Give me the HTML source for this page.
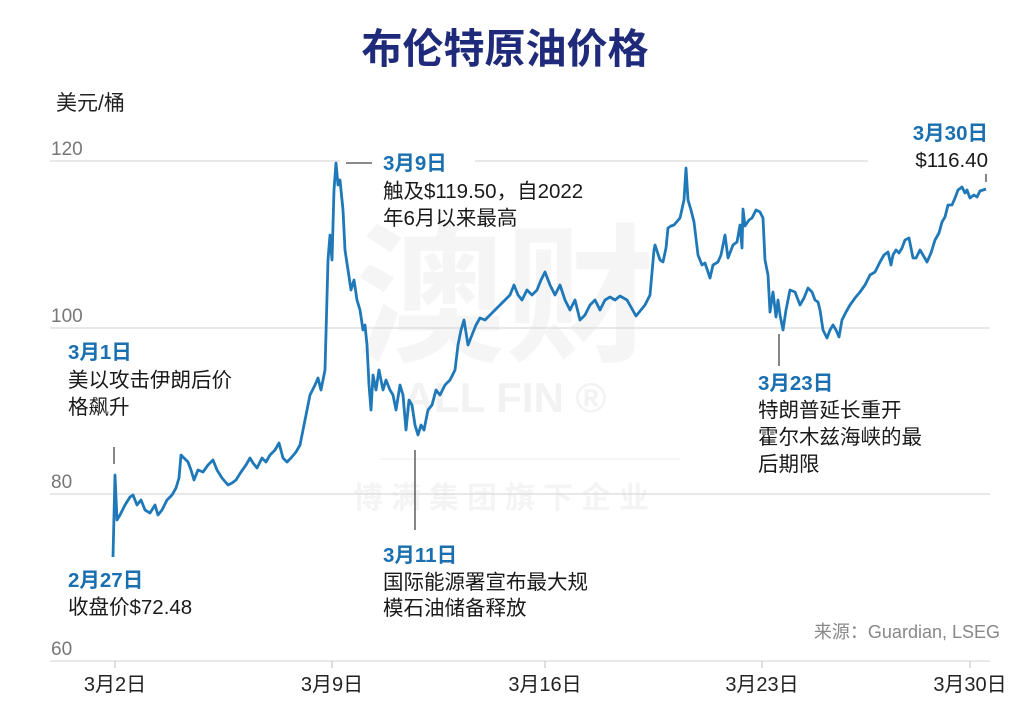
<!DOCTYPE html>
<html><head><meta charset="utf-8"><style>
body{margin:0;background:#fff;}
svg{display:block;font-family:"Liberation Sans","Noto Sans CJK SC",sans-serif;}
.b{fill:#1a6fb0;font-weight:bold;font-size:20.5px}
.t{fill:#1a1a1a;font-size:20.5px}
.ax{fill:#777;font-size:19px}
.xl{fill:#222;font-size:20px}
</style></head><body>
<svg width="1024" height="727" viewBox="0 0 1024 727">
<rect width="1024" height="727" fill="#fff"/>
<text x="505" y="63" text-anchor="middle" font-size="41" font-weight="bold" fill="#1f2a7a">布伦特原油价格</text>
<text x="56" y="110" font-size="21" fill="#222">美元/桶</text>
<!-- watermark -->
<text x="505" y="350" text-anchor="middle" font-size="150" font-weight="bold" fill="#f5f5f5">澳财</text>
<text x="505" y="412" text-anchor="middle" font-size="42" font-weight="bold" fill="#f2f2f2">ALL FIN ®</text>
<text x="505" y="508" text-anchor="middle" font-size="30" font-weight="bold" fill="#f4f4f4" letter-spacing="8">博满集团旗下企业</text>
<g stroke="#d9d9d9" stroke-width="1.3">
<line x1="50" y1="161" x2="340" y2="161"/><line x1="475" y1="161" x2="868" y2="161"/>
<line x1="50" y1="328" x2="990" y2="328"/>
<line x1="50" y1="494" x2="990" y2="494"/>
<line x1="380" y1="459" x2="680" y2="459" stroke="#f0f0f0"/>
<line x1="50" y1="661" x2="990" y2="661"/>
</g>
<g class="ax"><text x="51" y="155">120</text><text x="51" y="322">100</text><text x="51" y="488">80</text><text x="51" y="655">60</text></g>
<g stroke="#ccc" stroke-width="1.3"><line x1="115" y1="661" x2="115" y2="668"/><line x1="332" y1="661" x2="332" y2="668"/><line x1="545" y1="661" x2="545" y2="668"/><line x1="762" y1="661" x2="762" y2="668"/><line x1="970" y1="661" x2="970" y2="668"/></g>
<g class="xl" text-anchor="middle"><text x="115" y="691">3月2日</text><text x="332" y="691">3月9日</text><text x="545" y="691">3月16日</text><text x="762" y="691">3月23日</text><text x="970" y="691">3月30日</text></g>
<g stroke="#444" stroke-width="1.3">
<line x1="114" y1="447" x2="114" y2="464"/>
<line x1="346" y1="163" x2="372" y2="163"/>
<line x1="415" y1="450" x2="415" y2="530"/>
<line x1="779" y1="334" x2="779" y2="366"/>
<line x1="986" y1="174" x2="986" y2="182"/>
</g>
<polyline fill="none" stroke="#1f78b8" stroke-width="2.8" stroke-linejoin="round" points="113,557 115,475 117,520 120,515 125,505 130,497 133,495 137,505 141,500 145,510 150,513 155,505 158,515 162,510 167,500 172,495 176,488 179,478 181,455 184,458 188,462 191,470 194,480 198,470 203,472 208,465 213,460 217,470 222,478 228,485 232,483 236,480 241,472 246,465 250,458 253,463 257,468 262,458 266,462 270,455 275,450 279,443 283,458 287,462 291,458 296,452 300,445 303,430 306,415 310,395 315,385 318,378 321,390 325,370 328,260 330,235 332,260 334,190 336,163 338,185 340,180 343,210 345,250 348,270 351,290 354,280 357,300 360,310 363,330 365,325 367,345 369,385 371,410 373,375 376,390 379,370 383,390 386,380 390,390 393,395 396,410 400,385 403,395 406,430 409,400 412,405 415,425 418,435 421,425 424,430 428,410 432,405 436,390 440,395 445,385 450,380 455,370 458,345 461,330 464,320 468,345 472,335 476,325 480,318 485,320 490,315 495,310 500,305 505,300 510,295 514,285 518,295 522,300 527,290 532,295 537,290 541,280 545,272 550,285 555,295 560,285 565,300 570,310 575,300 580,320 585,315 590,305 595,300 600,310 605,300 610,297 615,300 620,296 627,300 636,316 645,305 650,295 654,250 655,245 660,260 663,262 666,248 668,228 671,226 674,225 680,218 684,200 686,168 688,200 691,210 694,222 698,255 702,265 705,263 710,278 713,265 718,262 721,255 725,235 728,258 733,245 737,242 740,225 742,248 743,209 745,226 749,220 752,218 756,210 760,212 763,218 765,260 768,275 770,312 773,292 776,317 778,300 780,315 783,330 786,310 790,290 795,292 800,305 804,298 808,288 812,292 815,300 818,302 820,310 823,330 827,338 830,330 833,325 836,330 839,337 842,320 846,312 850,305 855,298 860,292 865,285 870,275 875,272 880,262 884,255 888,252 891,265 893,255 896,250 899,253 902,248 905,240 909,238 913,258 916,258 920,250 923,255 927,262 931,253 935,240 939,233 942,222 945,217 948,205 952,205 955,198 958,190 962,187 965,193 967,190 970,198 974,195 977,197 980,191 986,189"/>
<text class="b" x="383" y="170">3月9日</text>
<text class="t" x="383" y="198">触及$119.50，自2022</text>
<text class="t" x="383" y="225">年6月以来最高</text>
<text class="b" x="68" y="359">3月1日</text>
<text class="t" x="68" y="387">美以攻击伊朗后价</text>
<text class="t" x="68" y="414">格飙升</text>
<text class="b" x="68" y="587">2月27日</text>
<text class="t" x="68" y="614">收盘价$72.48</text>
<text class="b" x="383" y="562">3月11日</text>
<text class="t" x="383" y="589">国际能源署宣布最大规</text>
<text class="t" x="383" y="615">模石油储备释放</text>
<text class="b" x="758" y="390">3月23日</text>
<text class="t" x="758" y="417">特朗普延长重开</text>
<text class="t" x="758" y="444">霍尔木兹海峡的最</text>
<text class="t" x="758" y="471">后期限</text>
<text class="b" x="988" y="140" text-anchor="end">3月30日</text>
<text class="t" x="988" y="167" text-anchor="end">$116.40</text>
<text x="1000" y="638" text-anchor="end" font-size="18" fill="#888">来源：Guardian, LSEG</text>
</svg>
</body></html>
